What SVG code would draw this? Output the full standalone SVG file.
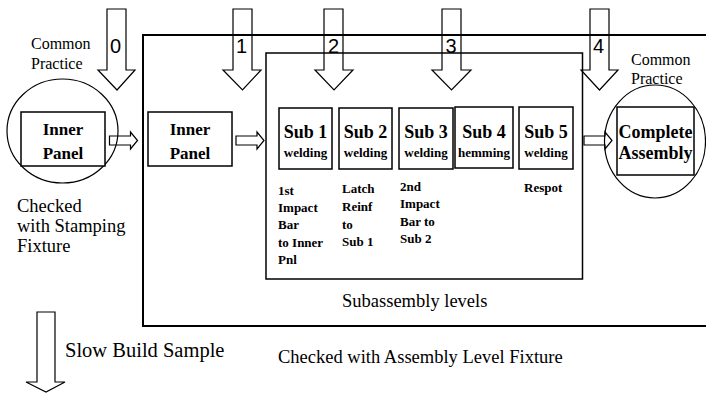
<svg xmlns="http://www.w3.org/2000/svg" width="706" height="393" viewBox="0 0 706 393">
<defs>
<path id="harrow" d="M0,-4.5 H21 V-8.5 L28,0 L21,8.5 V4.5 H0 Z" fill="none" stroke="#000" stroke-width="1.2"/>
</defs>
<g id="outer-frame"><path d="M720,35 H143 V326 H720" fill="none" stroke="#000" stroke-width="2"/></g>
<g id="subassembly-frame"><rect x="266" y="53" width="316.5" height="226" fill="none" stroke="#000" stroke-width="1.5"/></g>
<g id="stage0" font-size="17" font-weight="bold" text-anchor="middle">
<ellipse cx="62.5" cy="131" rx="55.5" ry="52" fill="#fff" stroke="#000" stroke-width="1.2"/>
<rect x="21" y="112" width="84" height="54" fill="#fff" stroke="#000" stroke-width="1.5"/>
<text style="font-family:'Liberation Serif',serif !important" x="63" y="135">Inner</text>
<text style="font-family:'Liberation Serif',serif !important" x="63" y="159">Panel</text>
</g>
<g id="stage1" font-size="17" font-weight="bold" text-anchor="middle">
<rect x="148" y="112" width="84" height="54" fill="#fff" stroke="#000" stroke-width="1.5"/>
<text style="font-family:'Liberation Serif',serif !important" x="190" y="135">Inner</text>
<text style="font-family:'Liberation Serif',serif !important" x="190" y="159">Panel</text>
</g>
<g id="subs" font-weight="bold" text-anchor="middle" fill="#fff" stroke="#000" stroke-width="1.5">
<g id="sub1"><rect x="279" y="108" width="53" height="61"/>
<text style="font-family:'Liberation Serif',serif !important" fill="#000" stroke="none" font-size="18" x="305.5" y="138">Sub 1</text><text style="font-family:'Liberation Serif',serif !important" fill="#000" stroke="none" font-size="13" x="305.5" y="157">welding</text></g>
<g id="sub2"><rect x="339" y="108" width="53" height="61"/>
<text style="font-family:'Liberation Serif',serif !important" fill="#000" stroke="none" font-size="18" x="365.5" y="138">Sub 2</text><text style="font-family:'Liberation Serif',serif !important" fill="#000" stroke="none" font-size="13" x="365.5" y="157">welding</text></g>
<g id="sub3"><rect x="399" y="108" width="54" height="61"/>
<text style="font-family:'Liberation Serif',serif !important" fill="#000" stroke="none" font-size="18" x="426" y="138">Sub 3</text><text style="font-family:'Liberation Serif',serif !important" fill="#000" stroke="none" font-size="13" x="426" y="157">welding</text></g>
<g id="sub4"><rect x="455" y="107" width="58" height="61"/>
<text style="font-family:'Liberation Serif',serif !important" fill="#000" stroke="none" font-size="18" x="484" y="138">Sub 4</text><text style="font-family:'Liberation Serif',serif !important" fill="#000" stroke="none" font-size="13" x="484" y="157">hemming</text></g>
<g id="sub5"><rect x="519" y="107" width="54" height="62"/>
<text style="font-family:'Liberation Serif',serif !important" fill="#000" stroke="none" font-size="18" x="546" y="138">Sub 5</text><text style="font-family:'Liberation Serif',serif !important" fill="#000" stroke="none" font-size="13" x="546" y="157">welding</text></g>
</g>
<g id="stage4" font-size="18" font-weight="bold" text-anchor="middle">
<ellipse cx="655" cy="141.5" rx="50.5" ry="56.5" fill="#fff" stroke="#000" stroke-width="1.2"/>
<rect x="617" y="107" width="77" height="68" fill="#fff" stroke="#000" stroke-width="1.5"/>
<text style="font-family:'Liberation Serif',serif !important" x="655.5" y="138">Complete</text>
<text style="font-family:'Liberation Serif',serif !important" x="655.5" y="159">Assembly</text>
</g>
<g id="connectors" fill="none" stroke="#000" stroke-width="1.2">
<use href="#harrow" x="109.5" y="140.5"/>
<use href="#harrow" x="236" y="140.5"/>
<use href="#harrow" x="584" y="140.5"/>
<path d="M107,9 H126 V70 H135 L117,90 L98,70 H107 Z"/>
<path d="M233,9 H252 V70 H261 L242.5,90 L223,70 H233 Z"/>
<path d="M324,9 H343 V70 H353 L334,90 L315,70 H324 Z"/>
<path d="M442,9 H461 V70 H471 L451.5,90 L432,70 H442 Z"/>
<path d="M590,9 H609 V70 H618 L599.5,90 L581,70 H590 Z"/>
<path d="M37,312 H55 V382 H65 L46,392 L26,382 H37 Z"/>
</g>
<g id="stage-numbers" font-size="20">
<text style="font-family:'Liberation Sans',sans-serif !important" x="110" y="53">0</text>
<text style="font-family:'Liberation Sans',sans-serif !important" x="236" y="53">1</text>
<text style="font-family:'Liberation Sans',sans-serif !important" x="328" y="53">2</text>
<text style="font-family:'Liberation Sans',sans-serif !important" x="445.5" y="53">3</text>
<text style="font-family:'Liberation Sans',sans-serif !important" x="593" y="53">4</text>
</g>
<g id="practice-labels" font-size="16">
<text style="font-family:'Liberation Serif',serif !important" x="31" y="49">Common</text>
<text style="font-family:'Liberation Serif',serif !important" x="31" y="69">Practice</text>
<text style="font-family:'Liberation Serif',serif !important" x="631" y="65">Common</text>
<text style="font-family:'Liberation Serif',serif !important" x="631" y="84">Practice</text>
</g>
<g id="sub-descriptions" font-size="13" font-weight="bold">
<text style="font-family:'Liberation Serif',serif !important" x="278" y="195">1st</text>
<text style="font-family:'Liberation Serif',serif !important" x="278" y="212">Impact</text>
<text style="font-family:'Liberation Serif',serif !important" x="278" y="229">Bar</text>
<text style="font-family:'Liberation Serif',serif !important" x="278" y="247">to Inner</text>
<text style="font-family:'Liberation Serif',serif !important" x="278" y="264">Pnl</text>
<text style="font-family:'Liberation Serif',serif !important" x="342" y="193">Latch</text>
<text style="font-family:'Liberation Serif',serif !important" x="342" y="211">Reinf</text>
<text style="font-family:'Liberation Serif',serif !important" x="342" y="229">to</text>
<text style="font-family:'Liberation Serif',serif !important" x="342" y="246">Sub 1</text>
<text style="font-family:'Liberation Serif',serif !important" x="400" y="191">2nd</text>
<text style="font-family:'Liberation Serif',serif !important" x="400" y="208">Impact</text>
<text style="font-family:'Liberation Serif',serif !important" x="400" y="226">Bar to</text>
<text style="font-family:'Liberation Serif',serif !important" x="400" y="243">Sub 2</text>
<text style="font-family:'Liberation Serif',serif !important" x="524" y="192">Respot</text>
</g>
<g id="captions" font-size="18.5">
<text style="font-family:'Liberation Serif',serif !important" x="17" y="212">Checked</text>
<text style="font-family:'Liberation Serif',serif !important" x="17" y="232">with Stamping</text>
<text style="font-family:'Liberation Serif',serif !important" x="17" y="252">Fixture</text>
<text style="font-family:'Liberation Serif',serif !important" x="342" y="307">Subassembly levels</text>
<text style="font-family:'Liberation Serif',serif !important" x="278" y="363">Checked with Assembly Level Fixture</text>
<text style="font-family:'Liberation Serif',serif !important" x="65" y="357" font-size="20.5">Slow Build Sample</text>
</g>
</svg>
